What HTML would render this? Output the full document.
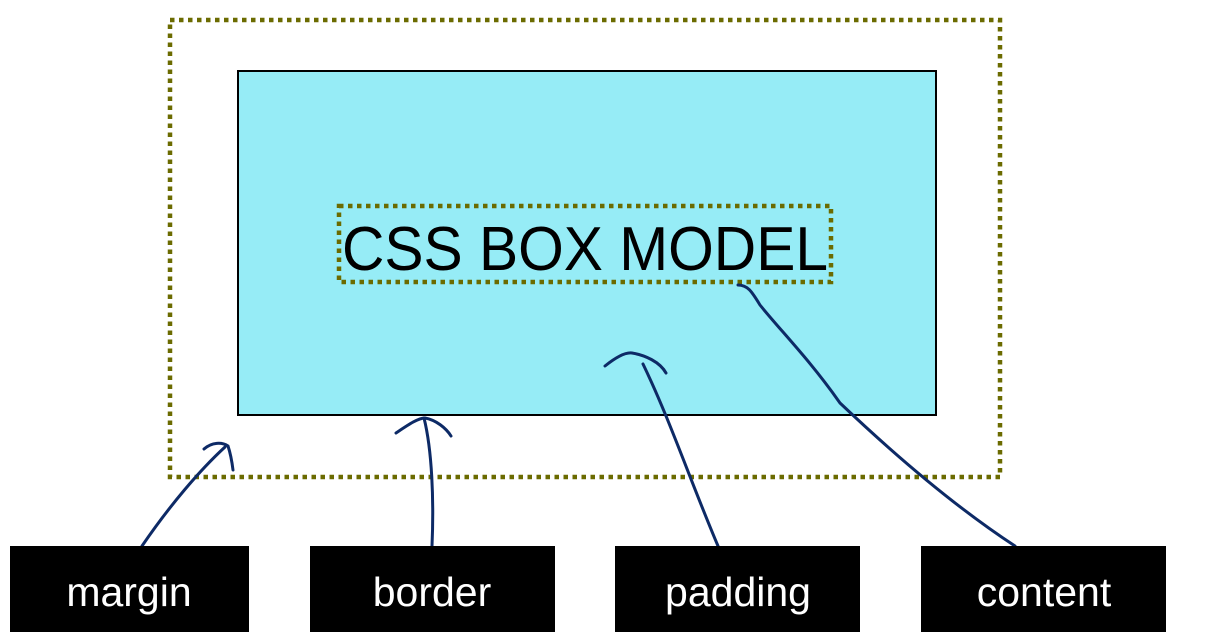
<!DOCTYPE html>
<html><head><style>body{margin:0;background:#fff;}svg{display:block}</style></head>
<body>
<svg width="1209" height="638" viewBox="0 0 1209 638" xmlns="http://www.w3.org/2000/svg">
<rect x="170" y="20" width="830" height="457" fill="none" stroke="#6b6b00" stroke-width="4.5" stroke-dasharray="4.5,4.5"/>
<rect x="238" y="71" width="698" height="344" fill="#96ecf6" stroke="#000" stroke-width="2"/>
<rect x="339" y="206" width="492" height="76" fill="none" stroke="#6b6b00" stroke-width="4.5" stroke-dasharray="4.5,4.5"/>
<text x="342" y="270" font-family="Liberation Sans, sans-serif" font-size="62" textLength="486" lengthAdjust="spacingAndGlyphs" fill="#000">CSS BOX MODEL</text>
<g fill="none" stroke="#0d2a66" stroke-width="3" stroke-linecap="round">
<path d="M142 546 C170 505 200 470 225 447"/>
<path d="M204 449 C212 442 222 442 228 446 C231 455 232 462 233 470"/>
<path d="M432 546 C434 500 432 450 424 418"/>
<path d="M396 433 C408 425 418 418 425 418 C436 420 446 428 451 436"/>
<path d="M718 546 C690 480 670 420 643 364"/>
<path d="M605 366 C615 358 625 352 632 353 C645 355 660 362 666 373"/>
<path d="M1015 546 C960 510 900 460 840 403 C810 360 780 330 760 305 C752 292 748 285 738 285"/>
</g>
<g font-family="Liberation Sans, sans-serif" font-size="41" fill="#fff" text-anchor="middle">
<rect x="10" y="546" width="239" height="86" fill="#000"/><text x="129" y="606">margin</text>
<rect x="310" y="546" width="245" height="86" fill="#000"/><text x="432" y="606">border</text>
<rect x="615" y="546" width="245" height="86" fill="#000"/><text x="738" y="606">padding</text>
<rect x="921" y="546" width="245" height="86" fill="#000"/><text x="1044" y="606">content</text>
</g>
</svg>
</body></html>
